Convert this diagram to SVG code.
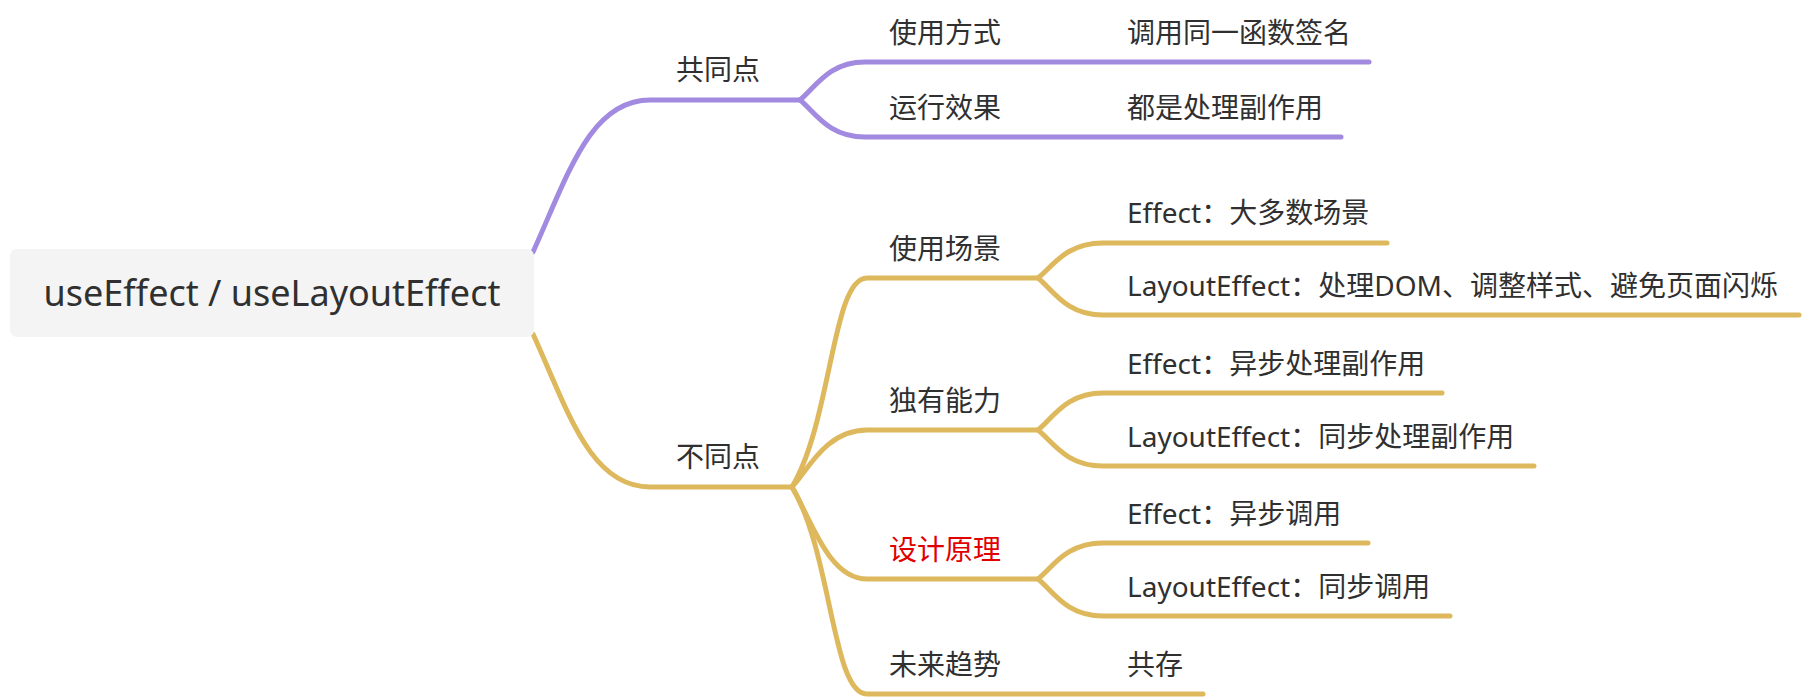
<svg xmlns="http://www.w3.org/2000/svg" width="1810" height="698" viewBox="0 0 1810 698">
<style>
.t{font-family:"Noto Sans","Noto Sans CJK SC",sans-serif;font-size:28px;fill:#303030}
.root{font-family:"Noto Sans","Noto Sans CJK SC",sans-serif;font-size:36px;fill:#303030}
.red{fill:#E00000}
.p{fill:none;stroke:#A18AE0;stroke-width:5;stroke-linecap:round;stroke-linejoin:round}
.g{fill:none;stroke:#DEB85C;stroke-width:5;stroke-linecap:round;stroke-linejoin:round}
</style>
<rect width="1810" height="698" fill="#ffffff"/>
<g id="connectors">
<path class="p" d="M533 252 C568 175 590 100 650 100 H800"/>
<path class="p" d="M800 100 C815 88 828 62 865 62 H1369"/>
<path class="p" d="M800 100 C815 112 828 137 865 137 H1341"/>
<path class="g" d="M533 334 C568 411 590 487 650 487 H792"/>
<path class="g" d="M792 487 C832 420 832 278 867 278 H1038"/>
<path class="g" d="M792 487 C807 472 825 430 867 430 H1038"/>
<path class="g" d="M792 487 C810 517 828 579 867 579 H1038"/>
<path class="g" d="M792 487 C832 553 832 694 867 694 H1203"/>
<path class="g" d="M1038 278 C1053 266 1066 243 1103 243 H1387"/>
<path class="g" d="M1038 278 C1053 290 1066 315 1103 315 H1799"/>
<path class="g" d="M1038 430 C1053 418 1066 393 1103 393 H1442"/>
<path class="g" d="M1038 430 C1053 442 1066 466 1103 466 H1534"/>
<path class="g" d="M1038 579 C1053 567 1066 543 1103 543 H1368"/>
<path class="g" d="M1038 579 C1053 591 1066 616 1103 616 H1450"/>
</g>
<g id="root">
<rect x="10" y="249" width="524" height="88" rx="7" fill="#F4F4F4"/>
<text class="root" x="272" y="306" text-anchor="middle">useEffect / useLayoutEffect</text>
</g>
<g id="n-common"><text class="t" x="676" y="80">共同点</text></g>
<g id="n-usage"><text class="t" x="889" y="43">使用方式</text></g>
<g id="n-usage-1"><text class="t" x="1127" y="43">调用同一函数签名</text></g>
<g id="n-effect"><text class="t" x="889" y="118">运行效果</text></g>
<g id="n-effect-1"><text class="t" x="1127" y="118">都是处理副作用</text></g>
<g id="n-diff"><text class="t" x="676" y="467">不同点</text></g>
<g id="n-scene"><text class="t" x="889" y="259">使用场景</text></g>
<g id="n-scene-1"><text class="t" x="1127" y="223">Effect：大多数场景</text></g>
<g id="n-scene-2"><text class="t" x="1127" y="296">LayoutEffect：处理DOM、调整样式、避免页面闪烁</text></g>
<g id="n-ability"><text class="t" x="889" y="411">独有能力</text></g>
<g id="n-ability-1"><text class="t" x="1127" y="374">Effect：异步处理副作用</text></g>
<g id="n-ability-2"><text class="t" x="1127" y="447">LayoutEffect：同步处理副作用</text></g>
<g id="n-design"><text class="t red" x="889" y="560">设计原理</text></g>
<g id="n-design-1"><text class="t" x="1127" y="524">Effect：异步调用</text></g>
<g id="n-design-2"><text class="t" x="1127" y="597">LayoutEffect：同步调用</text></g>
<g id="n-future"><text class="t" x="889" y="675">未来趋势</text></g>
<g id="n-future-1"><text class="t" x="1127" y="675">共存</text></g>
</svg>
